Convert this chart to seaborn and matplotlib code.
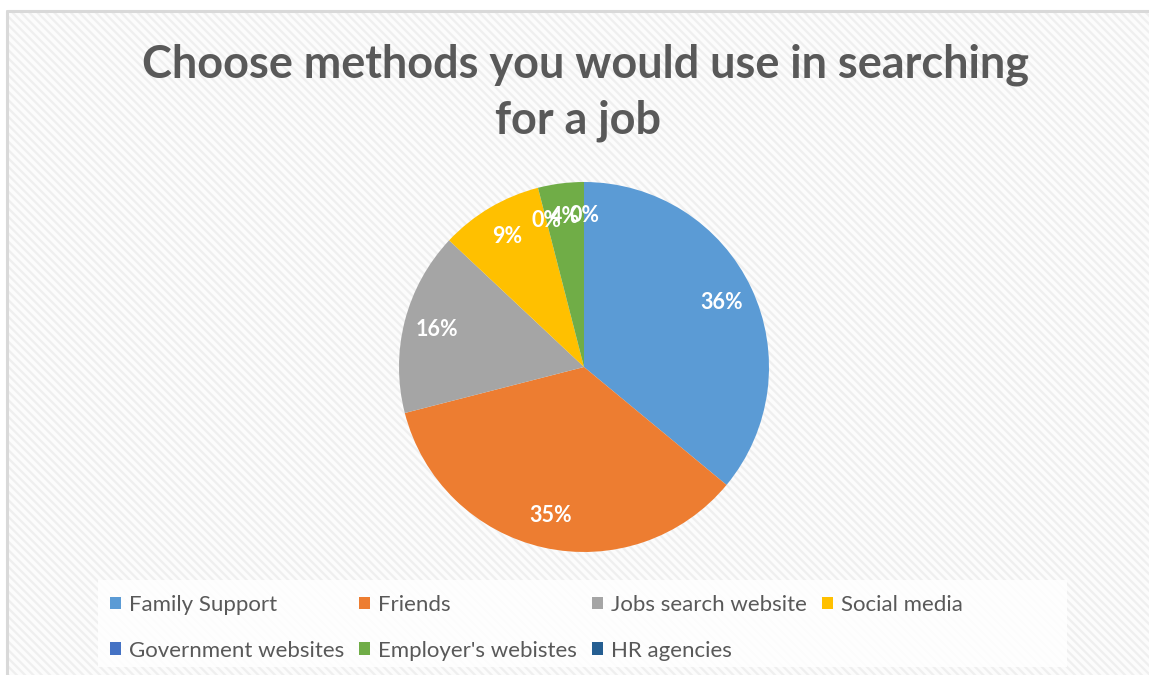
import matplotlib
matplotlib.use("Agg")
import matplotlib.pyplot as plt
from matplotlib.patches import Rectangle, Patch
from matplotlib.lines import Line2D
import seaborn as sns

# Survey results
methods = ["Family Support", "Friends", "Jobs search website", "Social media",
           "Government websites", "Employer's webistes", "HR agencies"]
shares = [36, 35, 16, 9, 0, 4, 0]
slice_colors = ["#5B9BD5", "#ED7D31", "#A5A5A5", "#FFC000",
                "#4472C4", "#70AD47", "#255E91"]
title_lines = ["Choose methods you would use in searching", "for a job"]

sns.set_theme(style="white")
plt.rcParams["font.family"] = ["Lato", "DejaVu Sans"]
plt.rcParams["hatch.linewidth"] = 1.6

W, H = 1149, 675
fig = plt.figure(figsize=(W / 100, H / 100), dpi=100)
fig.patch.set_facecolor("white")


def fx(px):
    return px / W


def fy(py):
    return 1 - py / H


# hatched chart area with its border
fig.patches.append(Rectangle((fx(7), 0), 1 - fx(7), fy(11), transform=fig.transFigure,
                             facecolor="#fcfcfc", edgecolor="#efefef", hatch="\\\\\\\\",
                             linewidth=0, zorder=-3))
fig.add_artist(Line2D([fx(7), 1], [fy(11), fy(11)], color="#d9d9d9", lw=2.2, zorder=-2))
fig.add_artist(Line2D([fx(7), fx(7)], [0, fy(11)], color="#d9d9d9", lw=2.2, zorder=-2))

# legend panel
fig.patches.append(Rectangle((fx(98), fy(667)), fx(1067) - fx(98), fy(580) - fy(667),
                             transform=fig.transFigure, facecolor="white",
                             edgecolor="none", alpha=0.85, zorder=-1))

# pie
cx, cy, r = 584, 367, 185
ax = fig.add_axes([fx(cx - r), fy(cy + r), 2 * r / W, 2 * r / H])
ax.set_zorder(2)
ax.set_axis_off()
ax.patch.set_alpha(0)
palette = sns.color_palette(slice_colors)
wedges, texts, autotexts = ax.pie(
    shares, colors=palette, startangle=90, counterclock=False,
    autopct=lambda p: f"{p:.0f}%", pctdistance=0.82, radius=1,
    wedgeprops=dict(linewidth=0),
    textprops=dict(color="white", fontsize=15.5, fontweight="bold"))
ax.set_xlim(-1, 1)
ax.set_ylim(-1, 1)

# title
fig.text(fx(585), fy(78), title_lines[0], ha="center", va="baseline",
         fontsize=32.4, fontweight="bold", color="#595959")
fig.text(fx(578), fy(133), title_lines[1], ha="center", va="baseline",
         fontsize=32.4, fontweight="bold", color="#595959")

# legend, filled row by row
order = [0, 4, 1, 5, 2, 6, 3]
handles = [Patch(facecolor=palette[i], edgecolor="none") for i in order]
labels = [methods[i] for i in order]
fig.legend(handles, labels, loc="upper left", bbox_to_anchor=(fx(110), fy(595)),
           ncol=4, frameon=False, fontsize=16, labelcolor="#595959",
           handlelength=0.5, handleheight=0.5, handletextpad=0.35,
           columnspacing=0.68, labelspacing=1.15, borderaxespad=0, borderpad=0)

fig.savefig("out.png", dpi=100, facecolor="white")
